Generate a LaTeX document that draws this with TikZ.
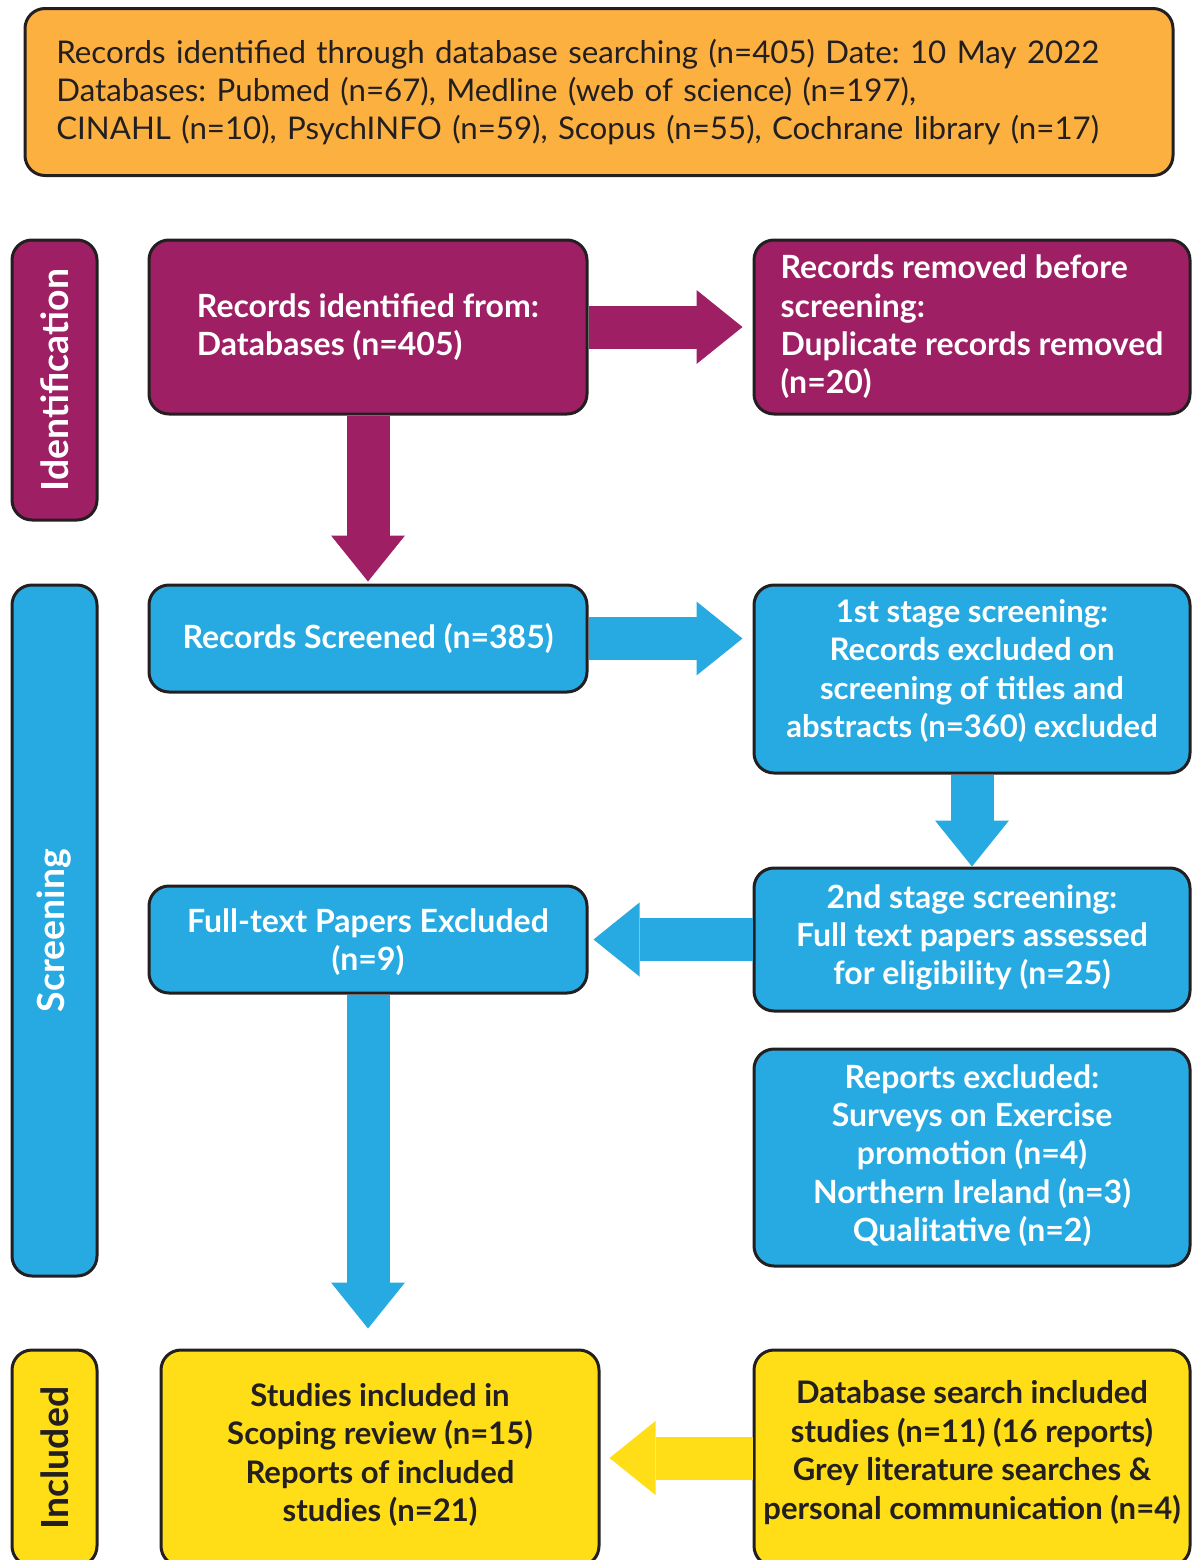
\documentclass[tikz,border=0pt]{standalone}
\usepackage{fontspec}
\setmainfont{Lato}
\usetikzlibrary{arrows.meta}
\definecolor{cOrange}{HTML}{FBB040}
\definecolor{cPurple}{HTML}{9E1F63}
\definecolor{cBlue}{HTML}{27AAE1}
\definecolor{cYellow}{HTML}{FFDE17}
\definecolor{cBorder}{HTML}{231F20}
\frenchspacing
\begin{document}
\begin{tikzpicture}[x=0.75pt,y=-0.75pt,
  box/.style={draw=cBorder, line width=2.25pt, rounded corners=15pt, inner sep=0pt,
    font=\fontsize{24}{28.8}\selectfont\bfseries, align=center},
  smallbold/.style={font=\fontsize{23.3}{28.8}\selectfont\bfseries},
  textonly/.style={draw=none, fill=none, rounded corners=0pt},
  pbox/.style={box, fill=cPurple, text=white},
  bbox/.style={box, fill=cBlue, text=white},
  ybox/.style={box, fill=cYellow, text=cBorder},
  sidelabel/.style={rotate=90, font=\fontsize{28}{32}\selectfont\bfseries},
  fat/.style={line width=32.25pt, -{Triangle[length=34.5pt,width=55.5pt,line width=0pt]}},
  fatp/.style={fat, draw=cPurple},
  fatb/.style={fat, draw=cBlue},
  faty/.style={fat, draw=cYellow}
]
\useasboundingbox (0,0) rectangle (1192,1560);
\clip (0,0) rectangle (1192,1560);

% top box
\node[box, fill=cOrange, text=cBorder, minimum width=861pt, minimum height=125.25pt,
  font=\fontsize{23.45}{28.5}\selectfont, align=left, text width=814pt] (top) at (599,92)
  {Records identified through database searching (n=405) Date: 10 May 2022\\
   Databases: Pubmed (n=67), Medline (web of science) (n=197),\\
   CINAHL (n=10), PsychINFO (n=59), Scopus (n=55), Cochrane library (n=17)};

% side labels
\node[pbox, minimum width=63.75pt, minimum height=210pt] (idbox) at (54.5,380) {};
\node[sidelabel, text=white] (idtext) at (idbox.center) {Identification};
\node[bbox, minimum width=63.75pt, minimum height=518.25pt] (scbox) at (54.5,930.5) {};
\node[sidelabel, text=white] (sctext) at (scbox.center) {Screening};
\node[ybox, minimum width=63.75pt, minimum height=162pt] (inbox) at (54.5,1458) {};
\node[sidelabel, text=cBorder] (intext) at (inbox.center) {Included};

% identification
\node[pbox, minimum width=328.5pt, minimum height=130.5pt, align=left] (recid) at (368,327)
  {Records identified from:\\Databases (n=405)};
\node[pbox, minimum width=327pt, minimum height=130.5pt, align=left] (removed) at (972,327)
  {Records removed before\\screening:\\Duplicate records removed\\(n=20)};

% screening
\node[bbox, minimum width=328.5pt, minimum height=80.25pt] (screened) at (368,638.5)
  {Records Screened (n=385)};
\node[bbox, minimum width=327pt, minimum height=141pt] (first) at (972,679) {};
\node[bbox, textonly, smallbold] (firsttext) at (972,671)
  {1st stage screening:\\Records excluded on\\screening of titles and\\abstracts (n=360) excluded};
\node[bbox, minimum width=327pt, minimum height=107.25pt] (second) at (972,939.5) {};
\node[bbox, textonly] (secondtext) at (972,937.5)
  {2nd stage screening:\\Full text papers assessed\\for eligibility (n=25)};
\node[bbox, minimum width=328.5pt, minimum height=80.25pt] (fulltext) at (368,939.5) {};
\node[bbox, textonly] (fulltexttext) at (368,942)
  {Full-text Papers Excluded\\(n=9)};
\node[bbox, minimum width=327pt, minimum height=162.75pt] (reports) at (972,1157.5) {};
\node[bbox, textonly] (reportstext) at (972,1155.5)
  {Reports excluded:\\Surveys on Exercise\\promotion (n=4)\\Northern Ireland (n=3)\\Qualitative (n=2)};

% included
\node[ybox, minimum width=328.5pt, minimum height=162pt] (studies) at (380,1458) {};
\node[ybox, textonly, smallbold] (studiestext) at (380,1455)
  {Studies included in\\Scoping review (n=15)\\Reports of included\\studies (n=21)};
\node[ybox, minimum width=327pt, minimum height=162pt] (dbsearch) at (972,1458) {};
\node[ybox, textonly, smallbold] (dbsearchtext) at (972,1452.5)
  {Database search included\\studies (n=11) (16 reports)\\Grey literature searches \&\\personal communication (n=4)};

% arrows
\draw[fatp, shorten >=7.5pt] (recid.east) -- (removed.west);
\draw[fatp, shorten >=1.5pt] (recid.south) -- (screened.north);
\draw[fatb, shorten >=7.5pt] (screened.east) -- (screened.east -| first.west);
\draw[fatb] (first.south) -- (second.north);
\draw[fatb, shorten >=3.75pt] (second.west) -- (fulltext.east);
\draw[fatb, shorten >=15pt] (fulltext.south) -- (fulltext.south |- studies.north);
\draw[faty, shorten >=6.75pt] (dbsearch.west) -- (studies.east);
\end{tikzpicture}
\end{document}
